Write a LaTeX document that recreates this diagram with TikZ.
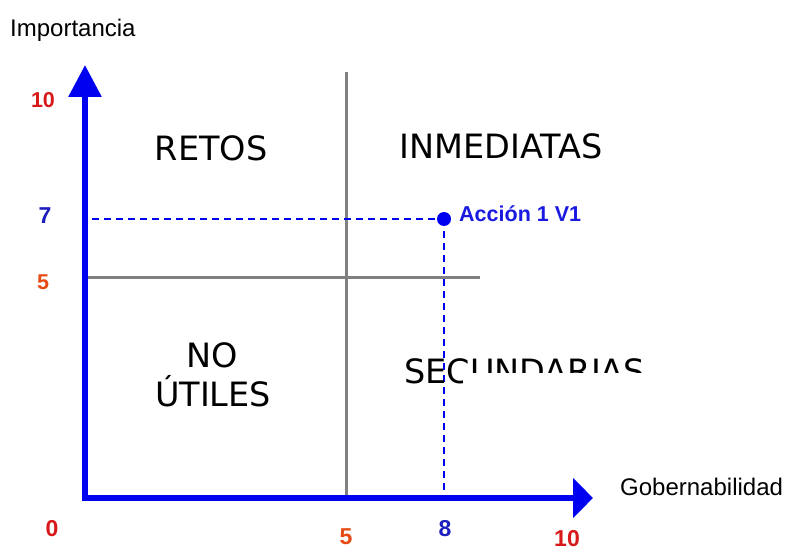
\documentclass[tikz,border=0pt]{standalone}
\usepackage{fontspec}
\setmainfont{Liberation Sans}
\newfontfamily\quadfont{DejaVu Sans}
\usetikzlibrary{arrows.meta}
\definecolor{axisblue}{RGB}{0,0,240}
\definecolor{textblue}{RGB}{25,25,225}
\definecolor{darkblue}{RGB}{30,30,190}
\definecolor{numred}{RGB}{215,25,25}
\definecolor{numorange}{RGB}{230,75,20}
\definecolor{quadgray}{RGB}{128,128,128}
\tikzset{
  axis/.style={axisblue,line width=6pt,line join=miter},
  divider/.style={quadgray,line width=3pt},
  guide/.style={axisblue,line width=2pt,dash pattern=on 7pt off 5pt},
  quadlabel/.style={font=\quadfont\fontsize{33.5}{38}\selectfont,inner sep=0pt,anchor=base},
  axlabel/.style={font=\fontsize{24}{28}\selectfont,inner sep=0pt,anchor=base west},
  tick/.style={font=\bfseries\fontsize{23}{26}\selectfont,inner sep=0pt,anchor=base},
  smalltick/.style={font=\bfseries\fontsize{21.5}{24}\selectfont,inner sep=0pt,anchor=base},
}
\begin{document}
\begin{tikzpicture}[x=1pt,y=-1pt]
\useasboundingbox (0,0) rectangle (792,553);
% key points
\coordinate (O) at (85,498);
\coordinate (Ytop) at (85,65);
\coordinate (Xend) at (593,498);
\coordinate (Vtop) at (346,72);
\coordinate (Vbot) at (346,498);
\coordinate (Hl) at (87,278);
\coordinate (Hr) at (480,278);
\coordinate (Gl) at (92,219);
\coordinate (Gb) at (444,495);
% dividers
\draw[divider] (Vtop) -- (Vbot);
\draw[divider] (Hl) -- (Hr);
% guides
\node[circle,fill=axisblue,inner sep=0pt,minimum size=14pt] (P) at (444,219) {};
\draw[guide] (Gl) -- (P.center);
\draw[guide] (P.center) -- (Gb);
% axes
\draw[axis,{Triangle[length=32pt,width=32pt]}-{Triangle[length=20pt,width=39pt]}] (Ytop) -- (O) -- (Xend);
% quadrant labels
\node[quadlabel] (retos) at (211,161) {RETOS};
\node[quadlabel] (inm) at (501,159) {INMEDIATAS};
\node[quadlabel] (no) at (212,367) {NO};
\node[quadlabel] (utiles) at (213,406) {ÚTILES};
\node[quadlabel,anchor=base west] (sec) at (404,383) {SECUNDARIAS};
\fill[white] (463,373) rectangle (690,395);
% point label
\node[font=\bfseries\fontsize{21.5}{24}\selectfont,text=textblue,inner sep=0pt,anchor=base west] (acc) at (459,222) {Acción 1 V1};
% axis labels
\node[axlabel] (imp) at (10,37) {Importancia};
\node[axlabel] (gob) at (620,495) {Gobernabilidad};
% ticks
\node[smalltick,text=numred] (y10) at (43,108) {10};
\node[tick,text=darkblue] (y7) at (45,224) {7};
\node[smalltick,text=numorange] (y5) at (43,289) {5};
\node[tick,text=numred] (x0) at (52,536) {0};
\node[tick,text=numorange] (x5) at (346,544) {5};
\node[tick,text=darkblue] (x8) at (445,536) {8};
\node[tick,text=numred] (x10) at (567,546) {10};
\end{tikzpicture}
\end{document}
